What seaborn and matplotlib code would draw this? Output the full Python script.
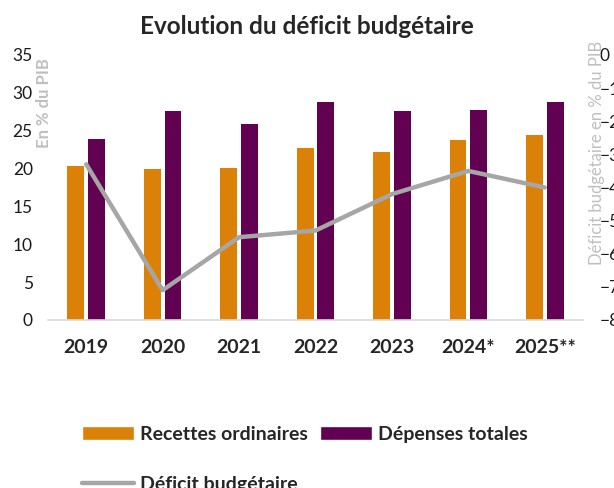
import matplotlib

matplotlib.use("Agg")
import matplotlib.pyplot as plt
import numpy as np
import pandas as pd
import seaborn as sns
from matplotlib.lines import Line2D
from matplotlib.patches import Patch

# values (% du PIB)
years = ["2019", "2020", "2021", "2022", "2023", "2024*", "2025**"]
recettes = [20.4, 19.9, 20.1, 22.7, 22.2, 23.8, 24.4]
depenses = [23.9, 27.6, 25.9, 28.8, 27.6, 27.7, 28.8]
deficit = [-3.3, -7.1, -5.5, -5.3, -4.2, -3.5, -4.0]

ORANGE = "#DB8107"
PURPLE = "#620051"
GREY_LINE = "#A6A6A6"
GREY_TXT = "#BFBFBF"

sns.set_style("white")
plt.rcParams["font.family"] = ["Lato", "DejaVu Sans"]

bars = pd.DataFrame({
    "annee": years * 2,
    "serie": ["Recettes ordinaires"] * len(years) + ["Dépenses totales"] * len(years),
    "valeur": recettes + depenses,
})

fig = plt.figure(figsize=(6.14, 4.88), dpi=100)
ax = fig.add_axes([48 / 614, 168 / 488, 535 / 614, 265 / 488])

sns.barplot(
    data=bars, x="annee", y="valeur", hue="serie", order=years,
    palette=[ORANGE, PURPLE], saturation=1, width=0.54, gap=0.185, ax=ax,
    linewidth=0, legend=False,
)
ax.set_ylim(0, 35)
ax.set_yticks(range(0, 36, 5))
ax.set_xlim(-0.5, len(years) - 0.5)
ax.set_xlabel("")
ax.set_ylabel("")
for s in ["top", "left", "right"]:
    ax.spines[s].set_visible(False)
ax.spines["bottom"].set_color("#D9D9D9")
ax.spines["bottom"].set_linewidth(1.2)
ax.tick_params(axis="y", length=0, pad=11, labelsize=12.5, labelcolor="#1a1a1a")
ax.tick_params(axis="x", length=0, pad=14, labelsize=14)
for lab in ax.get_xticklabels():
    lab.set_fontweight("bold")
ax.text(-0.008, 0.99, "En % du PIB", transform=ax.transAxes, rotation=90,
        ha="center", va="top", color=GREY_TXT, fontsize=12, fontweight="bold")

ax2 = ax.twinx()
sns.lineplot(x=np.arange(len(years)), y=deficit, color=GREY_LINE, linewidth=3.2, ax=ax2)
ax2.set_ylim(-8, 0)
ax2.set_yticks(range(-8, 1))
ax2.set_xlim(-0.5, len(years) - 0.5)
for s in ["top", "left", "right", "bottom"]:
    ax2.spines[s].set_visible(False)
ax2.tick_params(axis="y", length=0, pad=12, labelsize=12.5, labelcolor="#1a1a1a")
ax2.text(1.026, 1.055, "Déficit budgétaire en % du PIB", transform=ax2.transAxes,
         rotation=90, ha="center", va="top", color=GREY_TXT, fontsize=12)

fig.text(0.5, 0.945, "Evolution du déficit budgétaire", ha="center", va="center",
         fontsize=17.5, fontweight="bold")

handles = [
    Patch(facecolor=ORANGE, label="Recettes ordinaires"),
    Line2D([0], [0], color=GREY_LINE, linewidth=3.2, label="Déficit budgétaire"),
    Patch(facecolor=PURPLE, label="Dépenses totales"),
]
fig.legend(handles=handles, ncol=2, loc="upper left", bbox_to_anchor=(72 / 614, 1 - 416 / 488),
           frameon=False, borderpad=0, handlelength=2.7, handletextpad=0.3,
           columnspacing=0.6, labelspacing=1.7, prop={"weight": "bold", "size": 14})

fig.savefig("out.png", dpi=100)
